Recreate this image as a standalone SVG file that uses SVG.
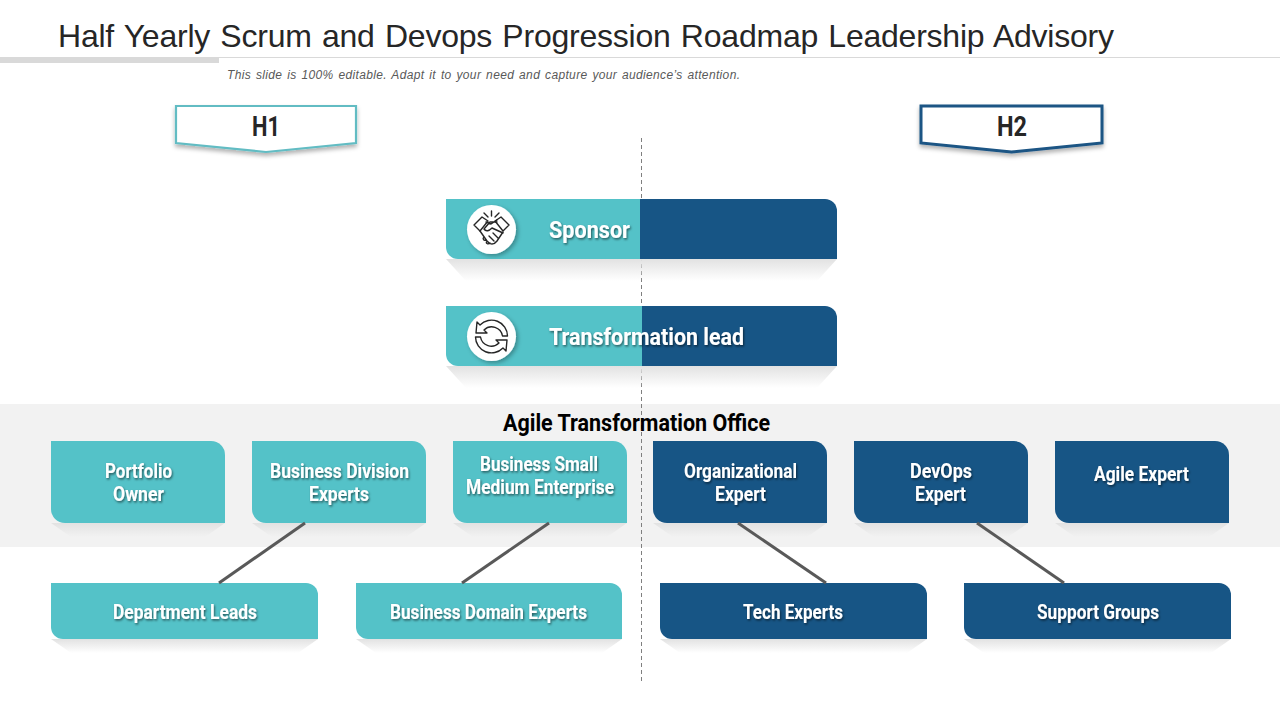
<svg xmlns="http://www.w3.org/2000/svg" width="1280" height="720" viewBox="0 0 1280 720">
<style>
.t{font-family:"Liberation Sans",Arial,sans-serif;fill:#262626}
.c{font-family:Roboto,"Liberation Sans",sans-serif;font-weight:700}
.w{fill:#fff;font-size:19.5px;filter:url(#ts)}
.big{fill:#fff;font-size:24px;filter:url(#ts)}
.teal{fill:#54c2c8}
.navy{fill:#175585}
.sh{fill:url(#shade)}
.conn{stroke:#595959;stroke-width:3;fill:none}
.ic{fill:none;stroke:#262626;stroke-width:1.4;stroke-linejoin:round;stroke-linecap:round}
</style>
<defs>
<linearGradient id="shade" x1="0" y1="0" x2="0" y2="1"><stop offset="0" stop-color="#e2e2e2"/><stop offset="1" stop-color="#e2e2e2" stop-opacity="0"/></linearGradient>
<filter id="ts" x="-10%" y="-20%" width="120%" height="150%"><feDropShadow dx="1" dy="1.5" stdDeviation="0.8" flood-color="#000" flood-opacity="0.55"/></filter>
<filter id="bs" x="-10%" y="-20%" width="120%" height="160%"><feDropShadow dx="0" dy="3" stdDeviation="2" flood-color="#000" flood-opacity="0.3"/></filter>
<filter id="cs" x="-20%" y="-20%" width="150%" height="150%"><feDropShadow dx="2" dy="2" stdDeviation="2" flood-color="#000" flood-opacity="0.3"/></filter>
</defs>
<rect width="1280" height="720" fill="#fff"/>
<g id="header">
<text class="t" x="58" y="47" font-size="32" word-spacing="1.600" textLength="1056" lengthAdjust="spacing">Half Yearly Scrum and Devops Progression Roadmap Leadership Advisory</text>
<rect x="219" y="57" width="1061" height="1" fill="#d9d9d9"/>
<rect x="0" y="57" width="219" height="6" fill="#d9d9d9"/>
<text class="t" x="227" y="78.500" font-size="12" font-style="italic" style="fill:#595959" word-spacing="1.200" textLength="513" lengthAdjust="spacing">This slide is 100% editable. Adapt it to your need and capture your audience’s attention.</text>
</g>
<rect id="band" x="0" y="404" width="1280" height="143" fill="#f2f2f2"/>
<g id="divider"><line x1="641.500" y1="138" x2="641.500" y2="682" stroke="#7f7f7f" stroke-width="1" stroke-dasharray="4 3"/></g>
<g id="h1">
<path d="M176 106H356V143L266 152L176 143Z" fill="#fff" stroke="#62bcc3" stroke-width="2.2" filter="url(#bs)"/>
<text class="c" x="252" y="136" font-size="27" fill="#262626" textLength="28" lengthAdjust="spacingAndGlyphs">H1</text>
</g>
<g id="h2">
<path d="M921 106H1102V143L1011.500 152L921 143Z" fill="#fff" stroke="#1a5484" stroke-width="3" filter="url(#bs)"/>
<text class="c" x="997" y="136" font-size="27" fill="#262626" textLength="30" lengthAdjust="spacingAndGlyphs">H2</text>
</g>
<g id="sponsor">
<path class="sh" d="M446 259H837L817 281H466Z"/>
<path class="navy" d="M640 199H825A12 12 0 0 1 837 211V259H640Z"/>
<path class="teal" d="M446 199H640V259H458A12 12 0 0 1 446 247Z"/>
<circle cx="491.500" cy="229.500" r="24.500" fill="#fff" filter="url(#cs)"/>
<g class="ic">
<path d="M491.500 211V216M484 213L488 217M499 213L495 217"/>
<path d="M474 225L482 217L488 221L480 231ZM509 225L501 217L495 221L503 231Z"/>
<path d="M486 222L491 224L497 220M497 222H490L484 229C486 232 489 231 492 228L503 233"/>
<path d="M480 231L487 241C490 245 494 245 497 241L503 232M489 236L494 241M493 233L498 238M484 237C482 239 484 241 486 240M487 241C485 243 488 245 490 243"/>
</g>
<text class="c big" x="549" y="238" textLength="81" lengthAdjust="spacingAndGlyphs">Sponsor</text>
</g>
<g id="transformation-lead">
<path class="sh" d="M446 366H837L817 388H466Z"/>
<path class="navy" d="M642 306H825A12 12 0 0 1 837 318V366H642Z"/>
<path class="teal" d="M446 306H642V366H458A12 12 0 0 1 446 354Z"/>
<circle cx="491.500" cy="336.500" r="24.500" fill="#fff" filter="url(#cs)"/>
<g class="ic">
<path d="M507.500 336A16 16 0 0 0 480 325L477 322L476 333L487 333L484 330A11 11 0 0 1 502.500 336Z"/>
<path transform="rotate(180 491.500 336.500)" d="M507.500 336A16 16 0 0 0 480 325L477 322L476 333L487 333L484 330A11 11 0 0 1 502.500 336Z"/>
</g>
<text class="c big" x="549" y="345" textLength="195" lengthAdjust="spacingAndGlyphs">Transformation lead</text>
</g>
<text id="office" class="c" x="503" y="431" font-size="23" fill="#000" textLength="267" lengthAdjust="spacingAndGlyphs">Agile Transformation Office</text>
<g id="portfolio-owner">
<path class="sh" d="M51 523H225L205 537H71Z"/>
<path class="teal" d="M51 441H211A14 14 0 0 1 225 455V523H65A14 14 0 0 1 51 509Z"/>
<text class="c w" x="105" y="478" textLength="67" lengthAdjust="spacingAndGlyphs">Portfolio</text>
<text class="c w" x="113" y="501" textLength="51" lengthAdjust="spacingAndGlyphs">Owner</text>
</g>
<g id="business-division">
<path class="sh" d="M252 523H426L406 537H272Z"/>
<path class="teal" d="M252 441H412A14 14 0 0 1 426 455V523H266A14 14 0 0 1 252 509Z"/>
<text class="c w" x="270" y="478" textLength="139" lengthAdjust="spacingAndGlyphs">Business Division</text>
<text class="c w" x="309" y="501" textLength="60" lengthAdjust="spacingAndGlyphs">Experts</text>
</g>
<g id="business-small">
<path class="sh" d="M453 523H627L607 537H473Z"/>
<path class="teal" d="M453 441H613A14 14 0 0 1 627 455V523H467A14 14 0 0 1 453 509Z"/>
<text class="c w" x="480" y="471" textLength="118" lengthAdjust="spacingAndGlyphs">Business Small</text>
<text class="c w" x="466" y="494" textLength="148" lengthAdjust="spacingAndGlyphs">Medium Enterprise</text>
</g>
<g id="organizational">
<path class="sh" d="M653 523H827L807 537H673Z"/>
<path class="navy" d="M653 441H813A14 14 0 0 1 827 455V523H667A14 14 0 0 1 653 509Z"/>
<text class="c w" x="684" y="478" textLength="113" lengthAdjust="spacingAndGlyphs">Organizational</text>
<text class="c w" x="715" y="501" textLength="51" lengthAdjust="spacingAndGlyphs">Expert</text>
</g>
<g id="devops">
<path class="sh" d="M854 523H1028L1008 537H874Z"/>
<path class="navy" d="M854 441H1014A14 14 0 0 1 1028 455V523H868A14 14 0 0 1 854 509Z"/>
<text class="c w" x="910" y="478" textLength="62" lengthAdjust="spacingAndGlyphs">DevOps</text>
<text class="c w" x="915" y="501" textLength="51" lengthAdjust="spacingAndGlyphs">Expert</text>
</g>
<g id="agile-expert">
<path class="sh" d="M1055 523H1229L1209 537H1075Z"/>
<path class="navy" d="M1055 441H1215A14 14 0 0 1 1229 455V523H1069A14 14 0 0 1 1055 509Z"/>
<text class="c w" x="1094" y="481" textLength="95" lengthAdjust="spacingAndGlyphs">Agile Expert</text>
</g>
<g id="department-leads">
<path class="sh" d="M51 639H318L298 653H71Z"/>
<path class="teal" d="M51 583H306A12 12 0 0 1 318 595V639H63A12 12 0 0 1 51 627Z"/>
<text class="c w" x="113" y="619" textLength="144" lengthAdjust="spacingAndGlyphs">Department Leads</text>
</g>
<g id="business-domain">
<path class="sh" d="M356 639H622L602 653H376Z"/>
<path class="teal" d="M356 583H610A12 12 0 0 1 622 595V639H368A12 12 0 0 1 356 627Z"/>
<text class="c w" x="390" y="619" textLength="197" lengthAdjust="spacingAndGlyphs">Business Domain Experts</text>
</g>
<g id="tech-experts">
<path class="sh" d="M660 639H927L907 653H680Z"/>
<path class="navy" d="M660 583H915A12 12 0 0 1 927 595V639H672A12 12 0 0 1 660 627Z"/>
<text class="c w" x="743" y="619" textLength="100" lengthAdjust="spacingAndGlyphs">Tech Experts</text>
</g>
<g id="support-groups">
<path class="sh" d="M964 639H1231L1211 653H984Z"/>
<path class="navy" d="M964 583H1219A12 12 0 0 1 1231 595V639H976A12 12 0 0 1 964 627Z"/>
<text class="c w" x="1037" y="619" textLength="122" lengthAdjust="spacingAndGlyphs">Support Groups</text>
</g>
<g id="connectors">
<line class="conn" x1="305" y1="523" x2="219" y2="583"/>
<line class="conn" x1="549" y1="523" x2="462" y2="583"/>
<line class="conn" x1="738" y1="523" x2="826" y2="583"/>
<line class="conn" x1="977" y1="523" x2="1064" y2="583"/>
</g>
</svg>
